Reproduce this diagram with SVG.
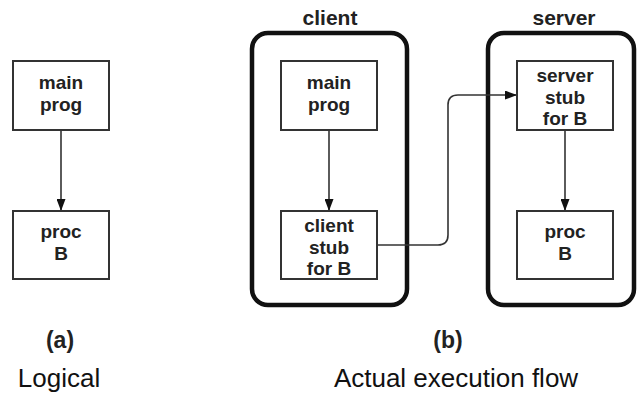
<svg xmlns="http://www.w3.org/2000/svg" width="637" height="393" viewBox="0 0 637 393">
<style>
.box{fill:#fff;stroke:#333;stroke-width:2}
.cont{fill:none;stroke:#111;stroke-width:4.5}
.bt{font-family:"Liberation Sans",Arial,sans-serif;font-weight:bold;font-size:19px;fill:#222;text-anchor:middle}
.hd{font-family:"Liberation Sans",Arial,sans-serif;font-weight:bold;font-size:21px;fill:#222;text-anchor:middle}
.lb{font-family:"Liberation Sans",Arial,sans-serif;font-weight:bold;font-size:23px;fill:#222;text-anchor:middle}
.cap{font-family:"Liberation Sans",Arial,sans-serif;font-size:26px;fill:#111;text-anchor:middle}
.edge{fill:none;stroke:#333;stroke-width:1.6}
</style>
<defs>
<marker id="ah" viewBox="0 0 12 9" refX="12" refY="4.5" markerWidth="12" markerHeight="9" markerUnits="userSpaceOnUse" orient="auto">
<path d="M0,0 L12,4.5 L0,9 Z" fill="#111"/>
</marker>
</defs>
<rect width="637" height="393" fill="#fff"/>
<g id="client-container">
<rect class="cont" x="252" y="33" width="155" height="272" rx="16"/>
<text class="hd" x="330" y="25">client</text>
</g>
<g id="server-container">
<rect class="cont" x="488" y="33" width="146" height="272" rx="16"/>
<text class="hd" x="564" y="25">server</text>
</g>
<g id="connectors">
<path class="edge" d="M61,130 V211" marker-end="url(#ah)"/>
<path class="edge" d="M329,130 V211" marker-end="url(#ah)"/>
<path class="edge" d="M565,130 V211" marker-end="url(#ah)"/>
<path class="edge" d="M377,245 H438 Q448,245 448,235 V105 Q448,95 458,95 H517" marker-end="url(#ah)"/>
</g>
<g id="a-main-prog">
<rect class="box" x="13" y="61" width="96" height="69"/>
<text class="bt" x="61" y="89">main</text>
<text class="bt" x="61" y="110.5">prog</text>
</g>
<g id="a-proc-b">
<rect class="box" x="13" y="211" width="96" height="68"/>
<text class="bt" x="61" y="238">proc</text>
<text class="bt" x="61" y="259.5">B</text>
</g>
<g id="b-main-prog">
<rect class="box" x="281" y="61" width="96" height="69"/>
<text class="bt" x="329" y="89">main</text>
<text class="bt" x="329" y="110.5">prog</text>
</g>
<g id="client-stub">
<rect class="box" x="281" y="211" width="96" height="68"/>
<text class="bt" x="329" y="232">client</text>
<text class="bt" x="329" y="253.5">stub</text>
<text class="bt" x="329" y="275">for B</text>
</g>
<g id="server-stub">
<rect class="box" x="517" y="61" width="96" height="69"/>
<text class="bt" x="565" y="82">server</text>
<text class="bt" x="565" y="103.5">stub</text>
<text class="bt" x="565" y="125">for B</text>
</g>
<g id="b-proc-b">
<rect class="box" x="517" y="211" width="96" height="68"/>
<text class="bt" x="565" y="238">proc</text>
<text class="bt" x="565" y="259.5">B</text>
</g>
<g id="captions">
<text class="lb" x="60" y="348">(a)</text>
<text class="cap" x="59" y="387">Logical</text>
<text class="lb" x="448" y="348">(b)</text>
<text class="cap" x="456" y="387">Actual execution flow</text>
</g>
</svg>
